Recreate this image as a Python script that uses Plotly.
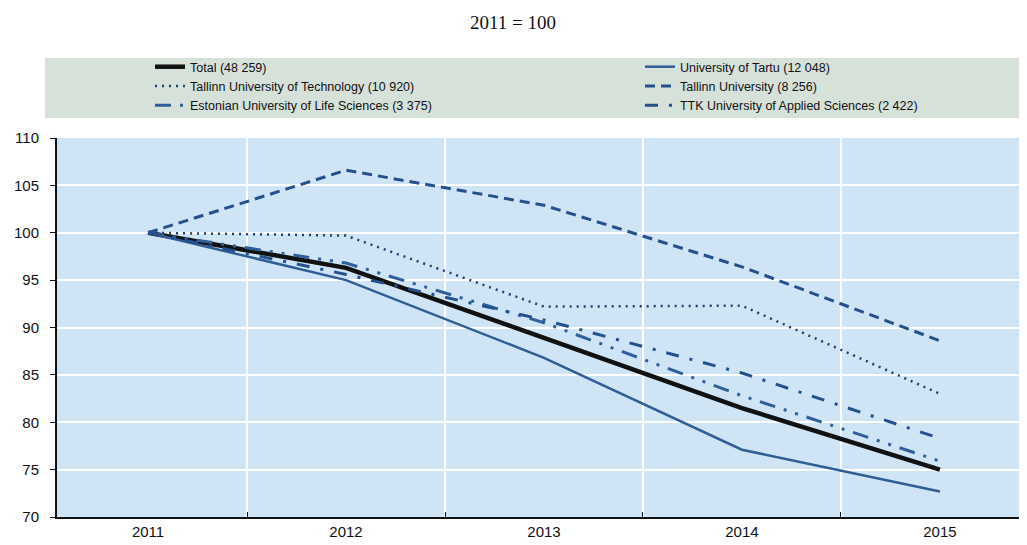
import plotly.graph_objects as go

years = ["2011", "2012", "2013", "2014", "2015"]

total = [100, 96.3, 88.9, 81.5, 75.0]
tartu = [100, 95.0, 86.8, 77.1, 72.7]
tut = [100, 99.7, 92.2, 92.3, 83.0]
tlu = [100, 106.6, 102.9, 96.4, 88.6]
euls = [100, 96.8, 90.5, 82.8, 75.9]
ttk = [100, 95.6, 90.8, 85.2, 78.3]

names = [
    "Total (48 259)",
    "University of Tartu (12 048)",
    "Tallinn University of Technology (10 920)",
    "Tallinn University (8 256)",
    "Estonian University of Life Sciences (3 375)",
    "TTK University of Applied Sciences (2 422)",
]

y_ticks = [70, 75, 80, 85, 90, 95, 100, 105, 110]

FONT = "Liberation Sans Narrow, Arial Narrow, Liberation Sans, Arial, sans-serif"

# (name, values, line style, legend id)
series = [
    (names[0], total, dict(color="#111111", width=4.5, dash="solid"), "legend"),
    (names[1], tartu, dict(color="#2f5d95", width=2.5, dash="solid"), "legend2"),
    (names[2], tut, dict(color="#1f3f6e", width=2.5, dash="2px,5px"), "legend"),
    (names[3], tlu, dict(color="#24508c", width=3, dash="10px,6px"), "legend2"),
    (names[4], euls, dict(color="#2f5f9a", width=3, dash="16px,9px,3px,9px,3px,9px"), "legend"),
    (names[5], ttk, dict(color="#24508c", width=3, dash="13px,11px,3px,11px"), "legend2"),
]

fig = go.Figure()
for name, vals, line, leg in series:
    fig.add_trace(go.Scatter(x=years, y=vals, name=name, mode="lines", line=line, legend=leg))

legend_common = dict(
    orientation="v",
    yanchor="top",
    xanchor="left",
    bgcolor="rgba(0,0,0,0)",
    font=dict(family=FONT, size=12.5, color="#111111"),
    tracegroupgap=0,
    traceorder="normal",
)

fig.update_layout(
    width=1019,
    height=537,
    template="none",
    paper_bgcolor="white",
    plot_bgcolor="#cfe5f5",
    margin=dict(l=49, r=0, t=130, b=28),
    font=dict(family=FONT, size=14, color="#111111"),
    showlegend=True,
    legend=dict(x=0.0959, y=1.2267, **legend_common),
    legend2=dict(x=0.6010, y=1.2267, **legend_common),
    title=dict(
        text="2011 = 100",
        x=505 / 1019,
        xref="container",
        xanchor="center",
        y=1 - 14 / 537,
        yref="container",
        yanchor="middle",
        font=dict(family="Liberation Serif, Times New Roman, serif", size=19, color="#111111"),
    ),
    shapes=[
        dict(
            type="rect",
            xref="paper",
            yref="paper",
            x0=-0.0124,
            x1=1.0,
            y0=1.0528,
            y1=1.2111,
            fillcolor="#d6e1da",
            line=dict(width=0),
            layer="below",
        )
    ],
)

fig.update_xaxes(
    type="category",
    range=[-0.46, 4.44],
    tickson="boundaries",
    ticks="inside",
    ticklen=5,
    tickcolor="#111111",
    showgrid=True,
    gridcolor="white",
    gridwidth=2,
    showline=True,
    linecolor="#111111",
    linewidth=2,
    zeroline=False,
    tickfont=dict(family=FONT, size=15, color="#111111"),
    automargin=False,
)
fig.update_yaxes(
    range=[70, 110],
    tickvals=y_ticks,
    ticktext=[str(v) for v in y_ticks],
    ticks="outside",
    ticklen=5,
    tickcolor="#111111",
    showgrid=True,
    gridcolor="white",
    gridwidth=2,
    showline=True,
    linecolor="#111111",
    linewidth=2,
    zeroline=False,
    tickfont=dict(family=FONT, size=15, color="#111111"),
    ticklabelstandoff=8,
    automargin=False,
)

fig.write_html("out.html")
